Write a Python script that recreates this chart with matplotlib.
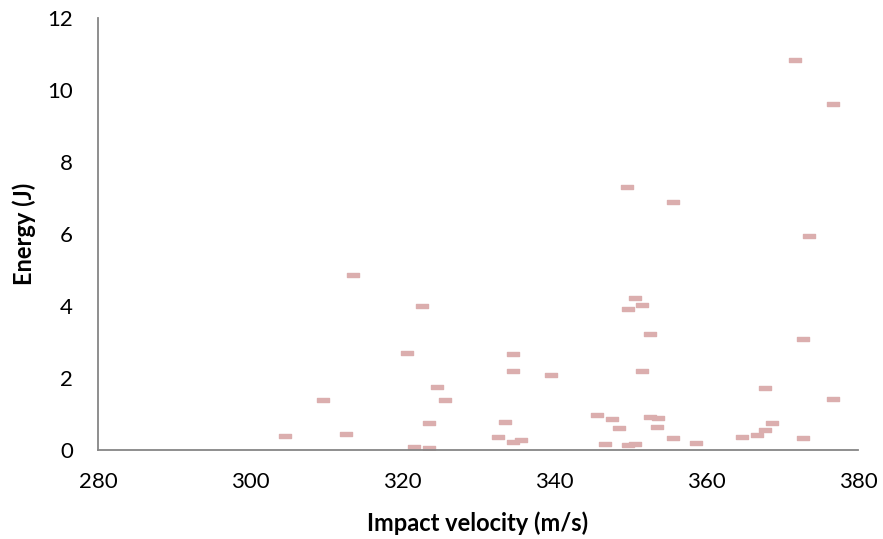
import matplotlib.pyplot as plt
from matplotlib.path import Path

plt.rcParams["font.family"] = ["Lato", "DejaVu Sans"]

velocity = [
    304.6, 309.6, 312.6, 313.6, 320.7, 321.6, 322.6, 323.6, 323.6, 324.6,
    325.6, 332.6, 333.6, 334.6, 334.6, 334.6, 335.6, 339.6, 345.7, 346.7,
    347.6, 348.6, 349.6, 349.7, 349.7, 350.7, 350.7, 351.6, 351.6, 352.6,
    352.6, 353.6, 353.7, 355.7, 355.7, 358.7, 364.7, 366.7, 367.7, 367.7,
    368.7, 371.7, 372.7, 372.7, 373.6, 376.7, 376.7,
]
energy = [
    0.38, 1.39, 0.45, 4.85, 2.69, 0.07, 4.00, 0.05, 0.75, 1.76,
    1.39, 0.36, 0.79, 2.68, 2.19, 0.23, 0.27, 2.09, 0.96, 0.17,
    0.85, 0.60, 7.31, 3.91, 0.15, 4.22, 0.18, 4.03, 2.20, 3.23,
    0.93, 0.63, 0.90, 6.90, 0.32, 0.19, 0.36, 0.41, 0.56, 1.71,
    0.75, 10.84, 3.09, 0.32, 5.95, 9.61, 1.42,
]

x_ticks = [280, 300, 320, 340, 360, 380]
y_ticks = [0, 2, 4, 6, 8, 10, 12]

# Excel-style "dash" marker: a short wide bar
dash = Path([(-1, -0.38), (1, -0.38), (1, 0.38), (-1, 0.38), (-1, -0.38)],
            [Path.MOVETO, Path.LINETO, Path.LINETO, Path.LINETO, Path.CLOSEPOLY])

fig = plt.figure(figsize=(8.83, 5.39), dpi=100)
ax = fig.add_axes([98 / 883, 89 / 539, 760 / 883, 432 / 539])

ax.plot(velocity, energy, linestyle="none", marker=dash, markersize=8.4,
        color="#dbaeae", markeredgecolor="#dbaeae")

ax.set_xlim(280, 380)
ax.set_ylim(0, 12)
ax.set_xticks(x_ticks)
ax.set_yticks(y_ticks)
ax.tick_params(axis="both", length=0, labelsize=16, colors="black")
ax.tick_params(axis="x", pad=16)
ax.tick_params(axis="y", pad=18)

for side in ("top", "right"):
    ax.spines[side].set_visible(False)
for side in ("left", "bottom"):
    ax.spines[side].set_color("#868686")
    ax.spines[side].set_linewidth(1.3)

ax.set_xlabel("Impact velocity (m/s)", fontsize=17, fontweight="bold", labelpad=14)
ax.set_ylabel("Energy (J)", fontsize=17, fontweight="bold", labelpad=8)

fig.savefig("out.png", dpi=100)
